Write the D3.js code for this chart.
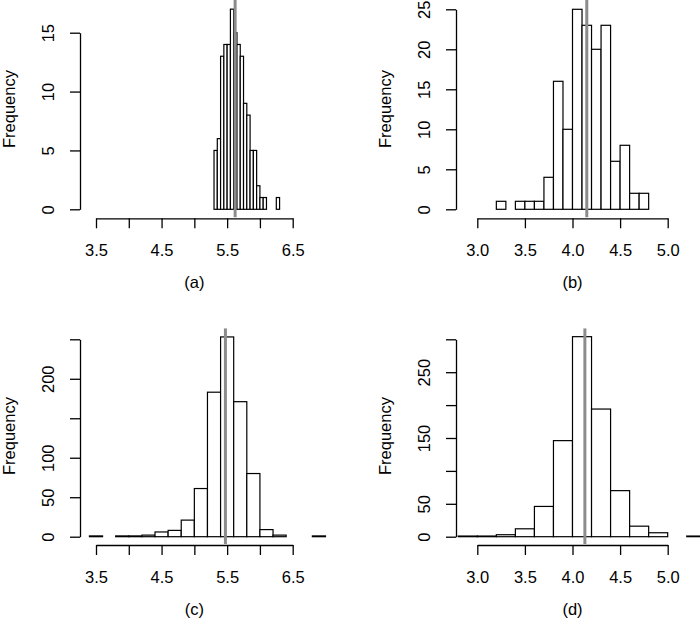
<!DOCTYPE html>
<html>
<head>
<meta charset="utf-8">
<script src="https://cdn.jsdelivr.net/npm/d3@7"></script>
<style>
  html, body { margin: 0; padding: 0; background: #fff; }
  svg { display: block; }
  text { font-family: "Liberation Sans", Arial, Helvetica, sans-serif; fill: #000; }
</style>
</head>
<body>
<svg id="chart" width="700" height="618"></svg>
<script>
// ---------------- data ----------------
const panelLabels = ["(a)", "(b)", "(c)", "(d)"];

const breaksA = [5.30,5.35,5.40,5.45,5.50,5.55,5.60,5.65,5.70,5.75,5.80,5.85,5.90,5.95,6.00,6.05,6.10,6.15,6.20,6.25,6.30];
const countsA = [5,6,13,14,14,17,15,14,13,9,8,5,5,2,1,1,0,0,0,1];
const refLineA = 5.622;

const breaksB = [3.2,3.3,3.4,3.5,3.6,3.7,3.8,3.9,4.0,4.1,4.2,4.3,4.4,4.5,4.6,4.7,4.8];
const countsB = [1,0,1,1,1,4,16,10,25,23,20,23,6,8,2,2];
const refLineB = 4.15;

const breaksC = [3.4,3.6,3.8,4.0,4.2,4.4,4.6,4.8,5.0,5.2,5.4,5.6,5.8,6.0,6.2,6.4,6.6,6.8,7.0];
const countsC = [1,0,1,1,2,6,8,21,61,183,253,171,80,9,2,0,0,1];
const refLineC = 5.474;

const breaksD = [2.8,3.0,3.2,3.4,3.6,3.8,4.0,4.2,4.4,4.6,4.8,5.0,5.2,5.4];
const countsD = [1,1,3,12,46,146,304,194,70,16,6,0,1];
const refLineD = 4.13;

const xTicksAC = [3.5,4.0,4.5,5.0,5.5,6.0,6.5];
const xLabelsAC = ["3.5","","4.5","","5.5","","6.5"];
const xTicksBD = [3.0,3.5,4.0,4.5,5.0];
const xLabelsBD = ["3.0","3.5","4.0","4.5","5.0"];

const yTicksA = [0,5,10,15];
const yLabelsA = ["0","5","10","15"];
const yTicksB = [0,5,10,15,20,25];
const yLabelsB = ["0","5","10","15","20","25"];
const yTicksC = [0,50,100,150,200,250];
const yLabelsC = ["0","50","100","","200",""];
const yTicksD = [0,50,100,150,200,250,300];
const yLabelsD = ["0","50","","150","","250",""];

const yAxisTitle = "Frequency";

// ---------------- layout ----------------
const FS = 16.5;
const svg = d3.select("#chart");

const panels = [
  { label: panelLabels[0], breaks: breaksA, counts: countsA, ref: refLineA,
    xDom: [3.5, 6.5], xRange: [96, 292.7], xTicks: xTicksAC, xLabels: xLabelsAC,
    yDom: [0, 15], yRange: [209.3, 32.7], yTicks: yTicksA, yLabels: yLabelsA,
    axisX: 80, axisY: 218.3, plotTop: 0, plotBottom: 217.6, titleY: 109 },
  { label: panelLabels[1], breaks: breaksB, counts: countsB, ref: refLineB,
    xDom: [3.0, 5.0], xRange: [477.3, 667.7], xTicks: xTicksBD, xLabels: xLabelsBD,
    yDom: [0, 25], yRange: [209.3, 9.3], yTicks: yTicksB, yLabels: yLabelsB,
    axisX: 456, axisY: 218.3, plotTop: 0, plotBottom: 217.6, titleY: 109 },
  { label: panelLabels[2], breaks: breaksC, counts: countsC, ref: refLineC,
    xDom: [3.5, 6.5], xRange: [96, 292.7], xTicks: xTicksAC, xLabels: xLabelsAC,
    yDom: [0, 250], yRange: [536.7, 339.3], yTicks: yTicksC, yLabels: yLabelsC,
    axisX: 80, axisY: 545, plotTop: 328.3, plotBottom: 544.3, titleY: 436 },
  { label: panelLabels[3], breaks: breaksD, counts: countsD, ref: refLineD,
    xDom: [3.0, 5.0], xRange: [477.3, 667.7], xTicks: xTicksBD, xLabels: xLabelsBD,
    yDom: [0, 300], yRange: [536.7, 339.3], yTicks: yTicksD, yLabels: yLabelsD,
    axisX: 456, axisY: 545, plotTop: 328.3, plotBottom: 544.3, titleY: 436 }
];

panels.forEach((p, i) => {
  const x = d3.scaleLinear().domain(p.xDom).range(p.xRange);
  const y = d3.scaleLinear().domain(p.yDom).range(p.yRange);
  const g = svg.append("g");

  // clip for reference line (plot region in y)
  const clipId = "clip" + i;
  svg.append("clipPath").attr("id", clipId)
    .append("rect").attr("x", 0).attr("y", p.plotTop)
    .attr("width", 700).attr("height", p.plotBottom - p.plotTop);

  // bars
  const bins = p.counts.map((c, k) => ({ x0: p.breaks[k], x1: p.breaks[k + 1], c }))
    .filter(d => d.c > 0);
  g.selectAll("rect.bar").data(bins).enter().append("rect")
    .attr("class", "bar")
    .attr("x", d => x(d.x0))
    .attr("width", d => x(d.x1) - x(d.x0))
    .attr("y", d => y(d.c))
    .attr("height", d => y(0) - y(d.c))
    .attr("fill", "#fff")
    .attr("stroke", "#000")
    .attr("stroke-width", 1.2);

  // reference line
  g.append("line")
    .attr("clip-path", "url(#" + clipId + ")")
    .attr("x1", x(p.ref)).attr("x2", x(p.ref))
    .attr("y1", p.plotTop).attr("y2", p.plotBottom)
    .attr("stroke", "#8c8c8c").attr("stroke-width", 3);

  // x axis
  const xa = g.append("g").attr("transform", `translate(0,${p.axisY})`)
    .call(d3.axisBottom(x).tickValues(p.xTicks).tickSize(10).tickSizeOuter(0).tickFormat(""));
  xa.selectAll("path,line").attr("stroke", "#000").attr("stroke-width", 1.3);
  xa.selectAll(".tick").append("text")
    .attr("y", 32).attr("dy", "0.35em")
    .attr("text-anchor", "middle")
    .style("font-size", FS + "px")
    .text((d, k) => p.xLabels[k]);

  // y axis
  const ya = g.append("g").attr("transform", `translate(${p.axisX},0)`)
    .call(d3.axisLeft(y).tickValues(p.yTicks).tickSize(10).tickSizeOuter(0).tickFormat(""));
  ya.selectAll("path,line").attr("stroke", "#000").attr("stroke-width", 1.3);
  ya.selectAll(".tick").append("text")
    .attr("transform", "rotate(-90)")
    .attr("x", 0).attr("y", -31.5).attr("dy", "0.35em")
    .attr("text-anchor", "middle")
    .style("font-size", FS + "px")
    .text((d, k) => p.yLabels[k]);

  // y title
  g.append("text")
    .attr("transform", `translate(${p.axisX - 70.5},${p.titleY}) rotate(-90)`)
    .attr("dy", "0.35em")
    .attr("text-anchor", "middle")
    .style("font-size", FS + "px")
    .text(yAxisTitle);

  // panel label
  g.append("text")
    .attr("x", (p.xRange[0] + p.xRange[1]) / 2)
    .attr("y", p.axisY + 64)
    .attr("dy", "0.35em")
    .attr("text-anchor", "middle")
    .style("font-size", FS + "px")
    .text(p.label);
});
</script>
</body>
</html>
